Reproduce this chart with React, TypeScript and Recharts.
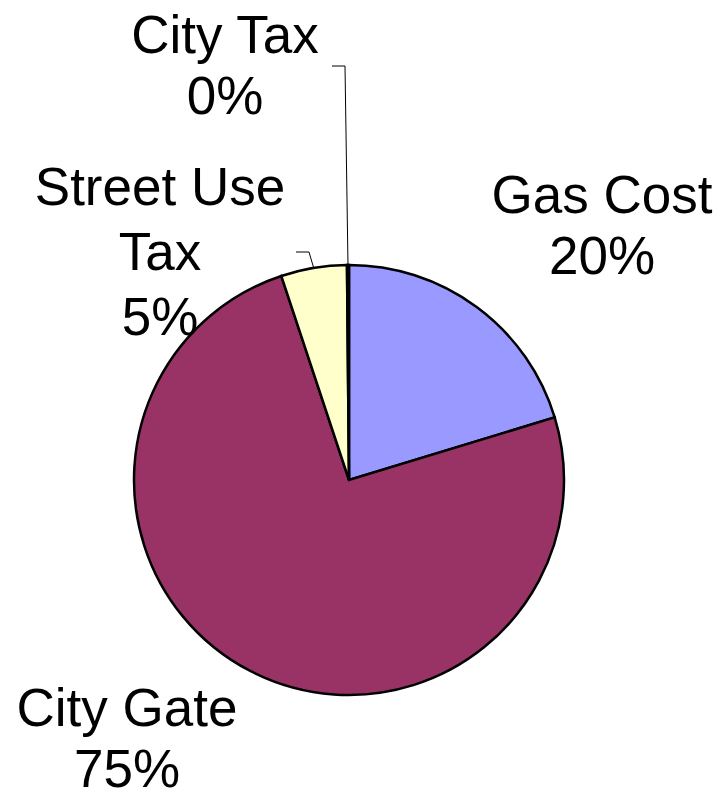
import React from "react";
import { PieChart, Pie, Cell } from "recharts";

// slice data (clockwise from 12 o'clock)
const names = ["Gas Cost", "City Gate", "Street Use Tax", "City Tax"];
const values = [20.3, 74.6, 4.95, 0.15];
const labelLines = [["Gas Cost"], ["City Gate"], ["Street Use", "Tax"], ["City Tax"]];

const COLORS = ["#9999FF", "#993366", "#FFFFCC", "#CCFFFF"];

// label placement relative to the pie centre (style only)
const LABEL_LAYOUT = [
  { dx: 253, dy: -267, lh: 61, leader: null },
  { dx: -222, dy: 246, lh: 61, leader: null },
  { dx: -189, dy: -275, lh: 65, leader: [[-53, -228], [-40, -228]] },
  { dx: -124, dy: -427, lh: 61, leader: [[-17, -414], [-4, -414]] },
];

const chartData = names.map((name, i) => ({ name, value: values[i] }));

const RAD = Math.PI / 180;

function renderLabel(props: any) {
  const { cx, cy, midAngle, outerRadius, percent, index } = props;
  const layout = LABEL_LAYOUT[index];
  const lines = [...labelLines[index], `${Math.round(percent * 100)}%`];
  const x = cx + layout.dx;
  const y = cy + layout.dy;
  let leader = null;
  if (layout.leader) {
    const ox = cx + outerRadius * Math.cos(-midAngle * RAD);
    const oy = cy + outerRadius * Math.sin(-midAngle * RAD);
    const pts = layout.leader
      .map(([px, py]) => `${cx + px},${cy + py}`)
      .concat(`${ox},${oy}`)
      .join(" ");
    leader = <polyline points={pts} fill="none" stroke="#000" strokeWidth={1} />;
  }
  return (
    <g key={`label-${index}`}>
      {leader}
      <text
        x={x}
        y={y}
        textAnchor="middle"
        fill="#000"
        fontFamily="'Liberation Sans', Arial, sans-serif"
        fontSize={53}
      >
        {lines.map((line, i) => (
          <tspan key={i} x={x} dy={i === 0 ? 0 : layout.lh}>
            {line}
          </tspan>
        ))}
      </text>
    </g>
  );
}

export default function App() {
  return (
    <div style={{ width: 717, height: 801, background: "#fff" }}>
      <PieChart
        width={717}
        height={801}
        margin={{ top: 0, right: 0, bottom: 0, left: 0 }}
      >
        <Pie
          data={chartData}
          dataKey="value"
          nameKey="name"
          cx={341}
          cy={472}
          outerRadius={215}
          startAngle={90}
          endAngle={-270}
          stroke="#000"
          strokeWidth={2.5}
          label={renderLabel}
          labelLine={false}
          isAnimationActive={false}
        >
          {chartData.map((entry, index) => (
            <Cell key={`cell-${index}`} fill={COLORS[index % COLORS.length]} />
          ))}
        </Pie>
      </PieChart>
    </div>
  );
}
